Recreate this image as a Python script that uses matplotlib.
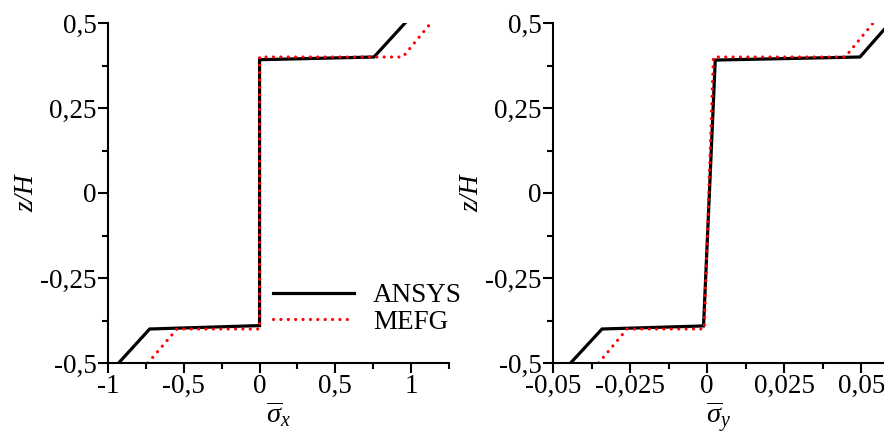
import matplotlib
matplotlib.use("Agg")
import matplotlib.pyplot as plt
from matplotlib.ticker import FixedLocator, FixedFormatter, MultipleLocator

plt.rcParams['font.family'] = ['Liberation Serif', 'DejaVu Serif']
plt.rcParams['mathtext.fontset'] = 'custom'
plt.rcParams['mathtext.rm'] = 'Liberation Serif'
plt.rcParams['mathtext.it'] = 'Liberation Serif:style=italic'

# ---- data ----
sx_ansys_x = [-0.93, -0.725, 0.0, 0.0, 0.755, 0.96]
sx_ansys_z = [-0.5, -0.40, -0.39, 0.392, 0.40, 0.5]
sx_mefg_x = [-0.737, -0.545, 0.0, 0.0, 0.945, 1.13]
sx_mefg_z = [-0.5, -0.40, -0.40, 0.40, 0.40, 0.5]

sy_ansys_x = [-0.0443, -0.0341, -0.0012, 0.0026, 0.0495, 0.0592]
sy_ansys_z = [-0.5, -0.40, -0.391, 0.391, 0.40, 0.5]
sy_mefg_x = [-0.0352, -0.026, -0.001, 0.002, 0.0447, 0.0538]
sy_mefg_z = [-0.5, -0.40, -0.40, 0.40, 0.40, 0.5]

x1_ticks = [-1, -0.5, 0, 0.5, 1]
x1_labels = ['-1', '-0,5', '0', '0,5', '1']
x2_ticks = [-0.05, -0.025, 0, 0.025, 0.05]
x2_labels = ['-0,05', '-0,025', '0', '0,025', '0,05']
y_ticks = [-0.5, -0.25, 0, 0.25, 0.5]
y_labels = ['-0,5', '-0,25', '0', '0,25', '0,5']
series_names = ['ANSYS', 'MEFG']

W, H = 884, 437
fig = plt.figure(figsize=(W / 100, H / 100), dpi=100)

def add_ax(l, r, t, b):
    return fig.add_axes([l / W, 1 - b / H, (r - l) / W, (b - t) / H])

ax1 = add_ax(108, 449, 23, 363)
ax2 = add_ax(553, 884, 23, 363)

FS = 19.5
for ax, (xa, za, xm, zm), xt, xl, xlim, minor, lab in [
    (ax1, (sx_ansys_x, sx_ansys_z, sx_mefg_x, sx_mefg_z), x1_ticks, x1_labels,
     (-1, 1.25), 0.25, r'$\overline{\sigma}_{x}$'),
    (ax2, (sy_ansys_x, sy_ansys_z, sy_mefg_x, sy_mefg_z), x2_ticks, x2_labels,
     (-0.05, 0.0573), 0.0125, r'$\overline{\sigma}_{y}$'),
]:
    ax.plot(xa, za, color='black', lw=2.3, solid_joinstyle='miter',
            label=series_names[0])
    ax.plot(xm, zm, color='red', lw=2.3, linestyle=(0, (0.01, 2.3)),
            dash_capstyle='round', label=series_names[1])
    ax.set_xlim(*xlim)
    ax.set_ylim(-0.5, 0.5)
    ax.xaxis.set_major_locator(FixedLocator(xt))
    ax.xaxis.set_major_formatter(FixedFormatter(xl))
    ax.xaxis.set_minor_locator(MultipleLocator(minor))
    ax.yaxis.set_major_locator(FixedLocator(y_ticks))
    ax.yaxis.set_major_formatter(FixedFormatter(y_labels))
    ax.yaxis.set_minor_locator(MultipleLocator(0.125))
    for s in ['top', 'right']:
        ax.spines[s].set_visible(False)
    for s in ['left', 'bottom']:
        ax.spines[s].set_linewidth(1.5)
    ax.tick_params(which='major', direction='out', length=7, width=1.5,
                   labelsize=FS, pad=1)
    ax.tick_params(which='minor', direction='out', length=4, width=1.5)
    ax.set_ylabel('z/H', fontsize=FS, fontstyle='italic', labelpad=1)
    ax.set_xlabel(lab, fontsize=FS + 1, labelpad=0)

fig.legend(handles=ax1.get_lines(), loc='center left',
           bbox_to_anchor=(273 / W, 1 - 309 / H), frameon=False,
           fontsize=FS, handlelength=3.0, handletextpad=0.7,
           labelspacing=0.05, borderpad=0, borderaxespad=0)

fig.savefig('out.png', dpi=100)
